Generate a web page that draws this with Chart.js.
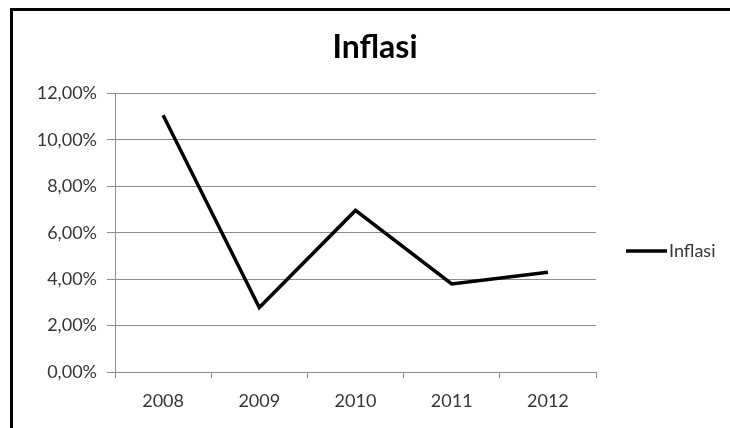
<!DOCTYPE html>
<html>
<head>
<meta charset="utf-8">
<style>
  html, body { margin: 0; padding: 0; background: #ffffff; }
  #wrap { position: relative; width: 730px; height: 428px; }
  canvas { display: block; }
</style>
<script src="https://cdn.jsdelivr.net/npm/chart.js@4/dist/chart.umd.min.js"></script>
</head>
<body>
<div id="wrap"><canvas id="c" width="730" height="428"></canvas></div>
<script>
// Annual inflation, percent
const years = ['2008', '2009', '2010', '2011', '2012'];
const inflasi = [11.06, 2.78, 6.96, 3.79, 4.30];
const seriesLabel = 'Inflasi';
const chartTitle = 'Inflasi';
const yTicks = [0, 2, 4, 6, 8, 10, 12];

const FONT = 'Lato, "Open Sans", sans-serif';
const GRID = '#8c8c8c';
const TEXT = '#363636';

// Thick frame around the chart
const framePlugin = {
  id: 'frame',
  beforeDraw(chart) {
    const ctx = chart.ctx;
    ctx.save();
    ctx.fillStyle = '#ffffff';
    ctx.fillRect(0, 0, chart.width, chart.height);
    ctx.strokeStyle = '#000000';
    ctx.lineWidth = 3;
    ctx.strokeRect(11.5, 9.5, 800, 800);
    ctx.restore();
  }
};

// Legend to the right of the plot: a line sample followed by the series name
const sideLegend = {
  id: 'sideLegend',
  afterDraw(chart) {
    const ctx = chart.ctx;
    const ds = chart.data.datasets[0];
    const y = 251;
    ctx.save();
    ctx.strokeStyle = ds.borderColor;
    ctx.lineWidth = ds.borderWidth;
    ctx.beginPath();
    ctx.moveTo(626, y);
    ctx.lineTo(667, y);
    ctx.stroke();
    ctx.fillStyle = TEXT;
    ctx.font = '18px ' + FONT;
    ctx.textBaseline = 'middle';
    ctx.textAlign = 'left';
    ctx.fillText(ds.label, 669, y);
    ctx.restore();
  }
};

const fmt = v => v.toFixed(2).replace('.', ',') + '%';

new Chart(document.getElementById('c'), {
  type: 'line',
  data: {
    labels: years,
    datasets: [{
      label: seriesLabel,
      data: inflasi,
      borderColor: '#000000',
      borderWidth: 3.5,
      pointRadius: 0,
      pointHoverRadius: 0,
      tension: 0,
      fill: false
    }]
  },
  options: {
    responsive: false,
    animation: false,
    devicePixelRatio: 1,
    layout: { padding: { left: 20, right: 0, top: 0, bottom: 0 } },
    plugins: {
      legend: { display: false },
      tooltip: { enabled: false },
      title: {
        display: true,
        text: chartTitle,
        color: '#000000',
        font: { family: FONT, size: 32, weight: 'bold', lineHeight: 1.2 },
        padding: { top: 28, bottom: 27 }
      }
    },
    scales: {
      x: {
        offset: true,
        grid: {
          offset: true,
          drawOnChartArea: false,
          drawTicks: true,
          tickLength: 6,
          color: GRID,
          lineWidth: 1
        },
        border: { display: true, color: GRID, width: 1 },
        ticks: {
          color: TEXT,
          font: { family: FONT, size: 18 },
          padding: 12,
          maxRotation: 0
        },
        afterFit(scale) { scale.height = 56; }
      },
      y: {
        min: 0,
        max: 12,
        afterBuildTicks(scale) { scale.ticks = yTicks.map(v => ({ value: v })); },
        grid: {
          color: GRID,
          lineWidth: 1,
          drawTicks: true,
          tickLength: 8
        },
        border: { display: true, color: GRID, width: 1 },
        ticks: {
          color: TEXT,
          font: { family: FONT, size: 18 },
          padding: 10,
          callback: v => fmt(v)
        },
        afterFit(scale) { scale.width = 95; }
      },
      // empty right-hand axis that reserves room for the legend
      legendSpace: {
        type: 'linear',
        position: 'right',
        display: true,
        grid: { display: false, drawTicks: false },
        border: { display: false },
        ticks: { display: false },
        afterFit(scale) { scale.width = 134; }
      }
    }
  },
  plugins: [framePlugin, sideLegend]
});
</script>
</body>
</html>
